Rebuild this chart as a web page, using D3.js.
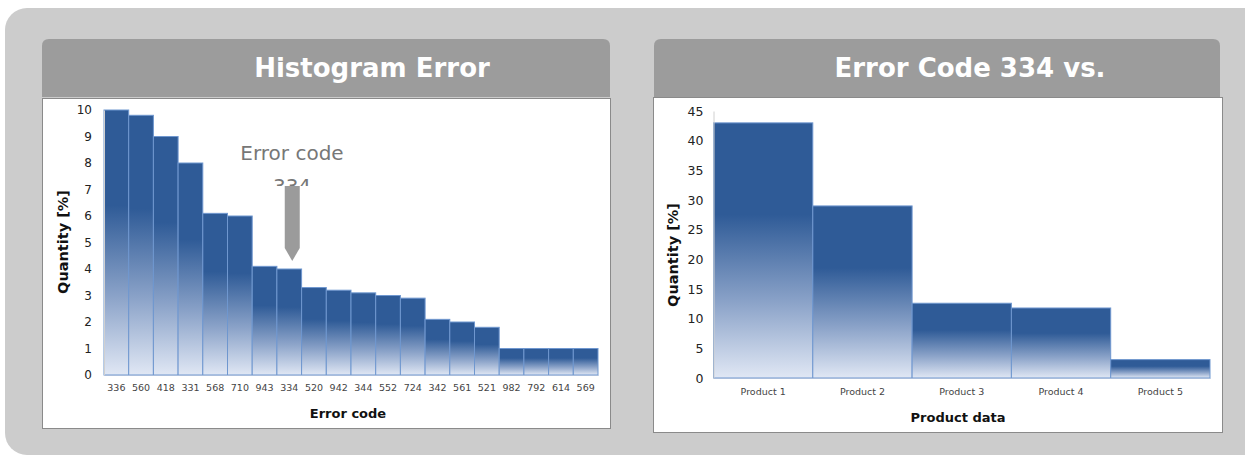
<!DOCTYPE html>
<html><head><meta charset="utf-8">
<script src="https://cdn.jsdelivr.net/npm/d3@7/dist/d3.min.js"></script>
<style>html,body{margin:0;padding:0;background:#fff;}svg{display:block;font-family:"DejaVu Sans",Verdana,sans-serif;}</style>
</head><body>
<svg id="c" width="1245" height="457"></svg>
<script>
const errorCodes = ["336","560","418","331","568","710","943","334","520","942","344","552","724","342","561","521","982","792","614","569"];
const errorValues = [10,9.8,9,8,6.1,6,4.1,4,3.3,3.2,3.1,3.0,2.9,2.1,2.0,1.8,1,1,1,1];
const errorTicks = [0,1,2,3,4,5,6,7,8,9,10];
const products = ["Product 1","Product 2","Product 3","Product 4","Product 5"];
const productValues = [43,29,12.6,11.8,3.1];
const productTicks = [0,5,10,15,20,25,30,35,40,45];

const svg = d3.select("#c");
const defs = svg.append("defs");
const grad = defs.append("linearGradient").attr("id","barGrad").attr("x1",0).attr("y1",0).attr("x2",0).attr("y2",1);
grad.append("stop").attr("offset","0").attr("stop-color","#2f5b97");
grad.append("stop").attr("offset","0.36").attr("stop-color","#2f5b97");
grad.append("stop").attr("offset","0.7").attr("stop-color","#8aa2c8");
grad.append("stop").attr("offset","1").attr("stop-color","#e0e7f4");
defs.append("clipPath").attr("id","annClip").append("rect").attr("x",200).attr("y",130).attr("width",200).attr("height",56);

// outer background
svg.append("rect").attr("x",5).attr("y",8).attr("width",1260).attr("height",447).attr("rx",22).attr("fill","#cccccc");

function panel(o){
  svg.append("path").attr("d",`M${o.hx},${o.hy+58} V${o.hy+7} Q${o.hx},${o.hy} ${o.hx+7},${o.hy} H${o.hx+o.hw-7} Q${o.hx+o.hw},${o.hy} ${o.hx+o.hw},${o.hy+7} V${o.hy+58} Z`).attr("fill","#9c9c9c");
  svg.append("text").attr("x",o.tx).attr("y",o.hy+38).attr("text-anchor","middle").attr("fill","#fff")
    .attr("font-weight","bold").attr("font-size",26).text(o.title);
  svg.append("rect").attr("x",o.bx+0.5).attr("y",o.by+0.5).attr("width",o.bw).attr("height",o.bh).attr("fill","#fff").attr("stroke","#8a8a8a");
  const x = d3.scaleBand().domain(o.cats).range([o.x0,o.x1]).padding(0);
  const y = d3.scaleLinear().domain([0,o.ymax]).range([o.y0,o.y1]);
  const g = svg.append("g");
  g.selectAll("rect.bar").data(o.vals).join("rect").attr("class","bar")
    .attr("x",(d,i)=>x(o.cats[i])).attr("width",x.bandwidth())
    .attr("y",d=>y(d)).attr("height",d=>y(0)-y(d))
    .attr("fill","url(#barGrad)").attr("stroke","#6f97cf").attr("stroke-width",1);
  const ya = svg.append("g").attr("transform",`translate(${o.x0},0)`)
    .call(d3.axisLeft(y).tickValues(o.ticks).tickSize(0).tickPadding(o.ypad));
  ya.select(".domain").attr("stroke","#d0d0d0");
  ya.selectAll("text").attr("font-size",o.yfs).attr("fill","#222").attr("font-family","DejaVu Sans, sans-serif");
  const xa = svg.append("g").attr("transform",`translate(0,${o.y0})`)
    .call(d3.axisBottom(x).tickSize(0).tickPadding(o.xpad));
  xa.select(".domain").attr("stroke","#a9bddc");
  xa.selectAll("text").attr("font-size",o.xfs).attr("fill","#444").attr("font-family","DejaVu Sans, sans-serif");
  svg.append("text").attr("x",o.xtx).attr("y",o.xty).attr("text-anchor","middle").attr("font-weight","bold").attr("font-size",13).attr("fill","#111").text(o.xtitle);
  svg.append("text").attr("transform",`translate(${o.ytx},${o.yty}) rotate(-90)`).attr("text-anchor","middle").attr("font-weight","bold").attr("font-size",14.5).attr("fill","#111").text("Quantity [%]");
  return {x,y};
}

const L = panel({hx:42,hy:39,hw:568,tx:372,title:"Histogram Error",bx:42,by:98,bw:568,bh:330,
  cats:errorCodes,vals:errorValues,ticks:errorTicks,ymax:10,x0:104,x1:598,y0:375,y1:110,
  ypad:12,yfs:12,xpad:9,xfs:9.5,xtx:348,xty:418,xtitle:"Error code",ytx:68,yty:242});

const R = panel({hx:654,hy:39,hw:566,tx:970,title:"Error Code 334 vs.",bx:653,by:97,bw:569,bh:335,
  cats:products,vals:productValues,ticks:productTicks,ymax:45,x0:713.5,x1:1210,y0:378,y1:111,
  ypad:10,yfs:12.5,xpad:10,xfs:9.5,xtx:958,xty:422,xtitle:"Product data",ytx:678,yty:255});

// annotation
const ax = L.x("334") + L.x.bandwidth()/2 + 3;
const ann = svg.append("g").attr("clip-path","url(#annClip)");
ann.append("text").attr("x",292).attr("y",160).attr("text-anchor","middle").attr("font-size",20).attr("fill","#777").text("Error code");
ann.append("text").attr("x",292).attr("y",193).attr("text-anchor","middle").attr("font-size",20).attr("fill","#777").text("334");
const ay = L.y(4) - 8;
svg.append("path").attr("d",`M${ax-7.5},186 H${ax+7.5} V${ay-13} L${ax},${ay} L${ax-7.5},${ay-13} Z`).attr("fill","#9b9b9b");
</script>
</body></html>
